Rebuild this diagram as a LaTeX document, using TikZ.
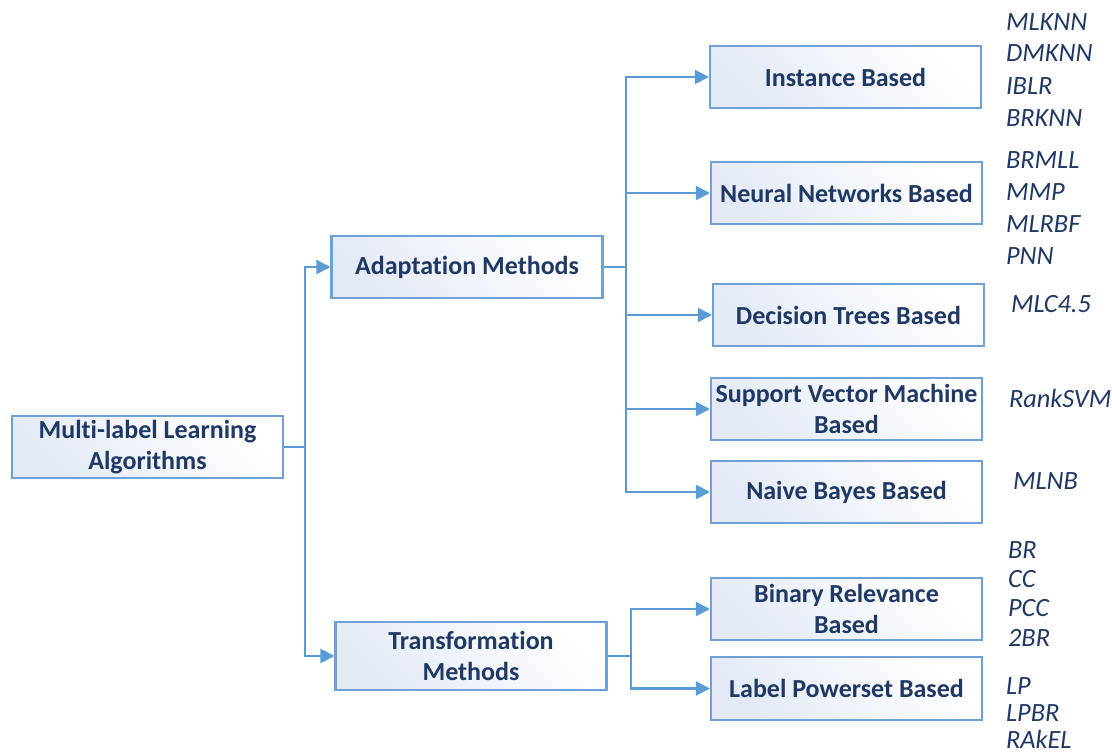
\documentclass[tikz,border=0pt]{standalone}
\usepackage{fontspec}
\setmainfont{Carlito}[Ligatures={NoCommon}]
\usetikzlibrary{arrows.meta}
\definecolor{navy}{HTML}{1F3864}
\definecolor{wire}{HTML}{5B9BD5}
\definecolor{rim}{HTML}{6FA0D6}
\definecolor{tint}{HTML}{E3EAF6}
\begin{document}
\begin{tikzpicture}[x=0.02cm,y=-0.02cm,line width=1.2pt,>={Triangle[length=8pt,width=8pt]},
  box/.style={draw=rim,top color=tint,bottom color=white,shading angle=135,minimum width=5.42cm,minimum height=1.24cm,
    align=center,text=navy,font=\fontsize{14.8}{17.8}\selectfont\bfseries,inner sep=1pt},
  alg/.style={anchor=west,text=navy,font=\fontsize{15}{17}\selectfont\itshape,inner sep=0pt},
  wire/.style={draw=wire,->}]
\useasboundingbox (0,0) rectangle (1112,753);
% boxes
\node[box] (root) at (147.5,447) {Multi-label Learning\\Algorithms};
\node[box] (adapt) at (467,267) {Adaptation Methods};
\node[box,minimum height=1.36cm] (trans) at (471,656) {Transformation\\Methods};
\node[box] (inst) at (845.5,77) {Instance Based};
\node[box] (nn) at (846.5,193) {Neural Networks Based};
\node[box] (dt) at (848.5,315) {Decision Trees Based};
\node[box] (svm) at (846.5,409) {Support Vector Machine\\Based};
\node[box] (nb) at (846.5,492) {Naive Bayes Based};
\node[box] (br) at (846.5,609) {Binary Relevance\\Based};
\node[box,minimum height=1.26cm] (lp) at (846.5,688.5) {Label Powerset Based};
% connectors
\coordinate (j0) at (305,447);
\draw[draw=wire] (root.east) -- (j0);
\draw[wire] (j0) |- (adapt.west);
\draw[wire] (j0) |- (trans.west);
\coordinate (j1) at (626,267);
\draw[draw=wire] (adapt.east) -- (j1);
\foreach \b in {inst,nn,dt,svm,nb}{\draw[wire] (j1) |- (\b.west);};
\coordinate (j2) at (631,656);
\draw[draw=wire] (trans.east) -- (j2);
\foreach \b in {br,lp}{\draw[wire] (j2) |- (\b.west);};
% algorithm lists
\node[alg] (a1) at (1005,22) {MLKNN};
\node[alg] (a2) at (1005,53) {DMKNN};
\node[alg] (a3) at (1005,86) {IBLR};
\node[alg] (a4) at (1005,118) {BRKNN};
\node[alg] (a5) at (1005,160) {BRMLL};
\node[alg] (a6) at (1005,192) {MMP};
\node[alg] (a7) at (1005,224) {MLRBF};
\node[alg] (a8) at (1005,256) {PNN};
\node[alg] (a9) at (1010,304) {MLC4.5};
\node[alg] (a10) at (1008,398) {RankSVM};
\node[alg] (a11) at (1012,481) {MLNB};
\node[alg] (a12) at (1007,550) {BR};
\node[alg] (a13) at (1007,579) {CC};
\node[alg] (a14) at (1007,608) {PCC};
\node[alg] (a15) at (1007,638) {2BR};
\node[alg] (a16) at (1005,686) {LP};
\node[alg] (a17) at (1005,713) {LPBR};
\node[alg] (a18) at (1005,739) {RAkEL};
\end{tikzpicture}
\end{document}
